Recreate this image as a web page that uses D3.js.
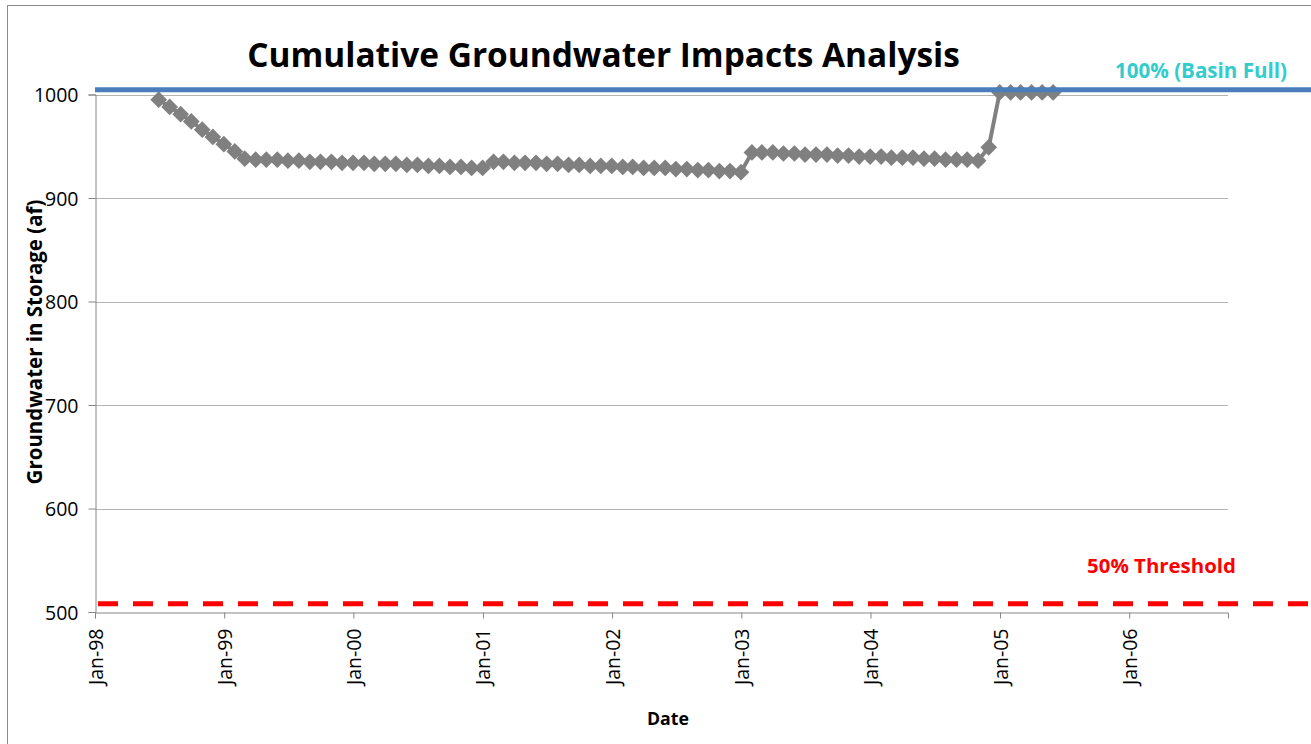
<!DOCTYPE html>
<html>
<head>
<meta charset="utf-8">
<script src="https://cdn.jsdelivr.net/npm/d3@7"></script>
<style>
  html, body { margin: 0; padding: 0; background: #ffffff; }
  svg { display: block; }
  text { font-family: "Open Sans", "Liberation Sans", sans-serif; }
</style>
</head>
<body>
<svg id="chart" width="1311" height="744"></svg>
<script>
// Monthly groundwater storage (af), one value per month starting June 1998
const firstMonth = { year: 1998, month: 6 };
const storage = [
  995, 988, 981, 974, 966, 959, 952, 945, 938,
  937, 937, 937, 936, 936, 935, 935, 935, 934, 934, 934,
  933, 933, 933, 932, 932, 931, 931, 930, 930, 929, 929,
  935, 935, 934, 934, 934, 933, 933, 932, 932, 931, 931, 931,
  930, 930, 929, 929, 929, 928, 928, 927, 927, 926, 926, 925,
  944, 944, 944, 943, 943, 942, 942, 942, 941, 941, 940,
  940, 940, 939, 939, 939, 938, 938, 937, 937, 937, 936,
  949,
  1002, 1002, 1002, 1002, 1002, 1002
];

// Reference levels
const basinFull = 1004.5;
const threshold = 508;

// Axis ticks
const yTicks = [500, 600, 700, 800, 900, 1000];
const xTickYears = [1998, 1999, 2000, 2001, 2002, 2003, 2004, 2005, 2006];

// Labels
const titleText = "Cumulative Groundwater Impacts Analysis";
const xTitle = "Date";
const yTitle = "Groundwater in Storage (af)";
const fullLabel = "100% (Basin Full)";
const thresholdLabel = "50% Threshold";

// each reading dated at the end of its month
const points = storage.map((v, i) => ({
  date: new Date(firstMonth.year, firstMonth.month + i, 0),
  value: v
}));

const svg = d3.select("#chart");
const plot = { left: 95, right: 1228, top: 94.5, bottom: 612 };

const x = d3.scaleTime()
  .domain([new Date(1998, 0, 1), new Date(2006, 9, 7)])
  .range([plot.left, plot.right]);
const y = d3.scaleLinear()
  .domain([500, 1000])
  .range([plot.bottom, plot.top]);

// Outer chart frame
svg.append("rect")
  .attr("x", 7.5).attr("y", 5.5)
  .attr("width", 1320).attr("height", 760)
  .attr("fill", "none").attr("stroke", "#8c8c8c").attr("stroke-width", 1);

// Horizontal gridlines
svg.append("g")
  .selectAll("line")
  .data(yTicks.filter(t => t > 500))
  .join("line")
  .attr("x1", plot.left).attr("x2", plot.right)
  .attr("y1", d => Math.round(y(d)) + 0.5).attr("y2", d => Math.round(y(d)) + 0.5)
  .attr("stroke", "#b4b4b4").attr("stroke-width", 1);

// Y axis
const yAxis = svg.append("g")
  .attr("transform", `translate(${plot.left + 0.5},0)`)
  .call(d3.axisLeft(y).tickValues(yTicks).tickSize(7).tickPadding(10).tickFormat(d3.format("d")));
yAxis.select(".domain").attr("stroke", "#868686");
yAxis.selectAll(".tick line").attr("stroke", "#868686");
yAxis.selectAll(".tick text")
  .attr("font-size", 19.5).attr("fill", "#000")
  .attr("font-family", "'Open Sans', sans-serif")
  .attr("dy", "0.36em");

// X axis
const xAxis = svg.append("g")
  .attr("transform", `translate(0,${plot.bottom + 0.5})`)
  .call(d3.axisBottom(x)
    .tickValues(xTickYears.map(yr => new Date(yr, 0, 1)))
    .tickSize(6)
    .tickFormat(d3.timeFormat("%b-%y")));
xAxis.select(".domain").attr("stroke", "#868686");
xAxis.selectAll(".tick line").attr("stroke", "#868686");
xAxis.selectAll(".tick text")
  .attr("font-size", 19.5).attr("fill", "#000")
  .attr("font-family", "'Open Sans', sans-serif")
  .attr("text-anchor", "end")
  .attr("transform", "rotate(-90)")
  .attr("x", -16).attr("y", 0).attr("dy", "0.36em");

// Series line and diamond markers
const line = d3.line().x(d => x(d.date)).y(d => y(d.value));
svg.append("path")
  .datum(points)
  .attr("d", line)
  .attr("fill", "none")
  .attr("stroke", "#808080")
  .attr("stroke-width", 4)
  .attr("stroke-linejoin", "round");

const diamond = d3.symbol().type(d3.symbolSquare).size(140);
svg.append("g")
  .selectAll("path")
  .data(points)
  .join("path")
  .attr("d", diamond)
  .attr("transform", d => `translate(${x(d.date)},${y(d.value)}) rotate(45)`)
  .attr("fill", "#808080");

// Basin full and threshold levels
svg.append("line")
  .attr("x1", plot.left).attr("x2", 1311)
  .attr("y1", y(basinFull)).attr("y2", y(basinFull))
  .attr("stroke", "#4a7ebb").attr("stroke-width", 5);

svg.append("line")
  .attr("x1", plot.left + 3).attr("x2", 1311)
  .attr("y1", y(threshold)).attr("y2", y(threshold))
  .attr("stroke", "#ff0000").attr("stroke-width", 5)
  .attr("stroke-dasharray", "20,15");

// Scale a text's font so that it spans the given width
function fitWidth(sel, width) {
  const size = parseFloat(sel.attr("font-size"));
  const len = sel.node().getComputedTextLength();
  sel.attr("font-size", size * width / len);
  return sel;
}

const title = svg.append("text")
  .attr("x", 603.5).attr("y", 67)
  .attr("text-anchor", "middle")
  .attr("font-weight", "bold")
  .attr("font-size", 30)
  .text(titleText);
fitWidth(title, 713);

const fl = svg.append("text")
  .attr("x", 1201).attr("y", 78)
  .attr("text-anchor", "middle")
  .attr("font-weight", "bold")
  .attr("font-size", 17)
  .attr("fill", "#33cccc")
  .text(fullLabel);
fitWidth(fl, 172);

const tl = svg.append("text")
  .attr("x", 1161.5).attr("y", 573)
  .attr("text-anchor", "middle")
  .attr("font-weight", "bold")
  .attr("font-size", 17)
  .attr("fill", "#ff0000")
  .text(thresholdLabel);
fitWidth(tl, 149);

const xt = svg.append("text")
  .attr("x", 668).attr("y", 725)
  .attr("text-anchor", "middle")
  .attr("font-weight", "bold")
  .attr("font-size", 16)
  .text(xTitle);
fitWidth(xt, 42);

const yt = svg.append("text")
  .attr("transform", "translate(42,342) rotate(-90)")
  .attr("text-anchor", "middle")
  .attr("font-weight", "bold")
  .attr("font-size", 16)
  .text(yTitle);
fitWidth(yt, 285);
</script>
</body>
</html>
